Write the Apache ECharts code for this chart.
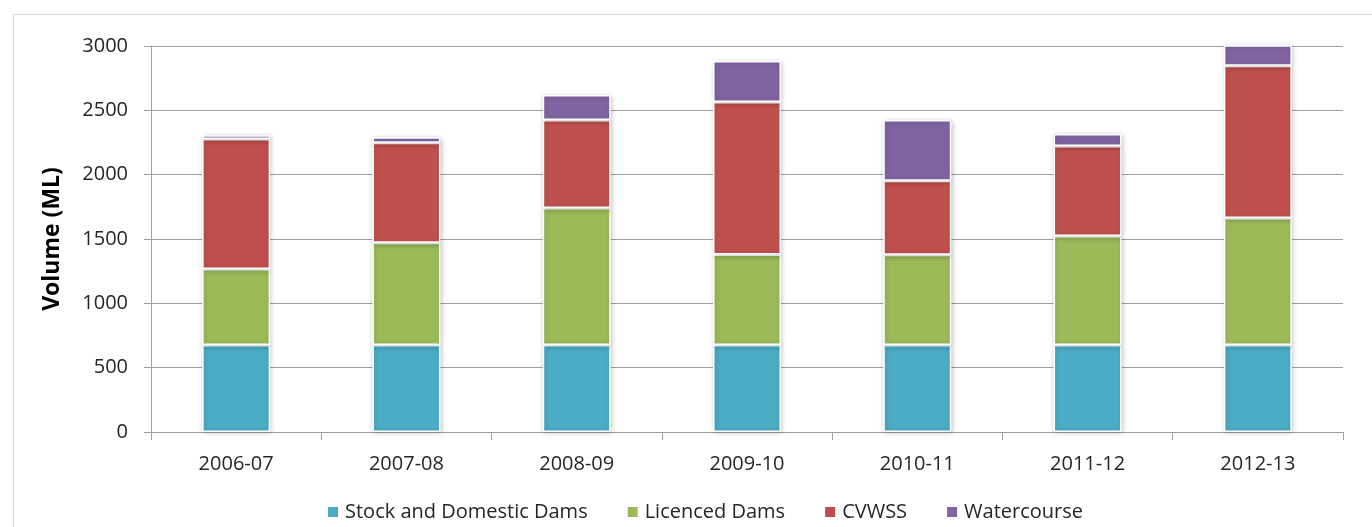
<!DOCTYPE html>
<html>
<head>
<meta charset="utf-8">
<script src="https://cdn.jsdelivr.net/npm/echarts@6/dist/echarts.min.js"></script>
<style>
  html, body { margin: 0; padding: 0; background: #fff; }
  #chart { width: 1372px; height: 527px; }
</style>
</head>
<body>
<div id="chart"></div>
<script>
// Water volumes by source, per financial year (ML)
const years = ['2006-07', '2007-08', '2008-09', '2009-10', '2010-11', '2011-12', '2012-13'];
const stockDomestic = [676, 676, 676, 676, 676, 676, 676];
const licencedDams = [591, 795, 1065, 704, 702, 847, 987];
const cvwss = [1010, 778, 684, 1185, 575, 700, 1184];
const watercourse = [30, 42, 195, 319, 472, 93, 170];
const yTicks = [0, 500, 1000, 1500, 2000, 2500, 3000];

const FONT = '"Open Sans", "Noto Sans", sans-serif';
const chart = echarts.init(document.getElementById('chart'), null, { renderer: 'canvas' });

function seriesOf(name, data, color) {
  return {
    name: name,
    type: 'bar',
    stack: 'total',
    data: data,
    barWidth: 68,
    clip: true,
    itemStyle: {
      color: color,
      borderColor: '#ffffff',
      borderWidth: 1.5,
      shadowBlur: 5,
      shadowColor: 'rgba(0,0,0,0.22)',
      shadowOffsetX: 1,
      shadowOffsetY: 1
    },
    emphasis: { disabled: true }
  };
}

chart.setOption({
  animation: false,
  backgroundColor: '#ffffff',
  graphic: [{
    type: 'rect',
    shape: { x: 13.5, y: 14.5, width: 1400, height: 600 },
    style: { fill: 'none', stroke: '#D9D9D9', lineWidth: 1 },
    silent: true,
    z: -1
  }],
  grid: { left: 151, right: 29, top: 46, bottom: 95 },
  legend: {
    top: 502,
    left: 326,
    padding: 0,
    itemWidth: 12,
    itemHeight: 12,
    itemGap: 38,
    icon: 'rect',
    textStyle: { fontFamily: FONT, fontSize: 20, color: '#262626', padding: [0, 0, 0, 1] },
    data: ['Stock and Domestic Dams', 'Licenced Dams', 'CVWSS', 'Watercourse']
  },
  xAxis: {
    type: 'category',
    data: years,
    axisLine: { lineStyle: { color: '#A0A0A0', width: 1 } },
    axisTick: { show: true, length: 8, lineStyle: { color: '#A0A0A0' } },
    axisLabel: { fontFamily: FONT, fontSize: 20, color: '#262626', margin: 22 }
  },
  yAxis: {
    type: 'value',
    min: yTicks[0],
    max: yTicks[yTicks.length - 1],
    interval: yTicks[1] - yTicks[0],
    name: 'Volume (ML)',
    nameLocation: 'middle',
    nameGap: 87,
    nameTextStyle: { fontFamily: FONT, fontSize: 23, fontWeight: 'bold', color: '#000' },
    axisLine: { show: true, lineStyle: { color: '#A0A0A0', width: 1 } },
    axisTick: { show: true, length: 7, lineStyle: { color: '#A0A0A0' } },
    axisLabel: {
      fontFamily: FONT, fontSize: 20, color: '#262626', margin: 23,
      formatter: function (v) { return String(v); }
    },
    splitLine: { lineStyle: { color: '#A0A0A0', width: 1 } }
  },
  series: [
    seriesOf('Stock and Domestic Dams', stockDomestic, '#4BACC6'),
    seriesOf('Licenced Dams', licencedDams, '#9BBB59'),
    seriesOf('CVWSS', cvwss, '#C0504D'),
    seriesOf('Watercourse', watercourse, '#8064A2')
  ]
});
</script>
</body>
</html>
